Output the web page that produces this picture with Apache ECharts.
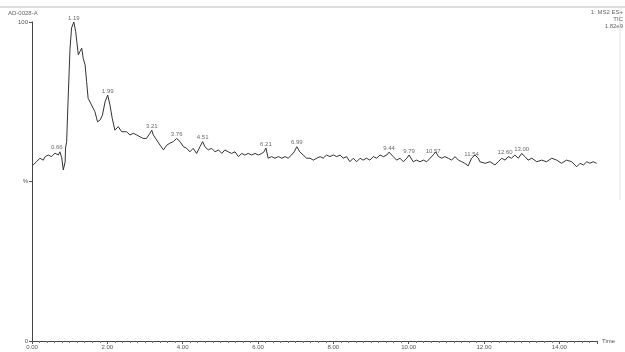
<!DOCTYPE html>
<html>
<head>
<meta charset="utf-8">
<script src="https://cdn.jsdelivr.net/npm/echarts@6/dist/echarts.min.js"></script>
<style>
  html, body { margin: 0; padding: 0; background: #fff; }
  #chart { width: 625px; height: 352px; }
</style>
</head>
<body>
<div id="chart"></div>
<script>
// retention time (min) and relative intensity (%)
const times = [
  0.03, 0.12, 0.21, 0.30, 0.35, 0.43, 0.52, 0.61, 0.70, 0.74, 0.79, 0.83, 0.88, 0.89, 0.92, 0.96,
  1.01, 1.05, 1.11, 1.16, 1.19, 1.23, 1.27, 1.32, 1.36, 1.41, 1.45, 1.49, 1.58, 1.67, 1.74, 1.81,
  1.87, 1.94, 2.01, 2.07, 2.13, 2.20, 2.29, 2.38, 2.42, 2.51, 2.60, 2.69, 2.78, 2.87, 2.95, 3.04,
  3.13, 3.18, 3.22, 3.31, 3.40, 3.49, 3.58, 3.66, 3.75, 3.84, 3.93, 4.02, 4.11, 4.19, 4.28, 4.37,
  4.46, 4.53, 4.59, 4.68, 4.77, 4.86, 4.95, 5.04, 5.12, 5.21, 5.30, 5.39, 5.48, 5.57, 5.65, 5.74,
  5.83, 5.92, 6.01, 6.10, 6.16, 6.21, 6.27, 6.36, 6.45, 6.54, 6.63, 6.72, 6.80, 6.89, 6.96, 7.03,
  7.11, 7.20, 7.29, 7.38, 7.47, 7.56, 7.65, 7.73, 7.82, 7.91, 8.00, 8.09, 8.18, 8.26, 8.35, 8.44,
  8.53, 8.62, 8.71, 8.79, 8.88, 8.97, 9.06, 9.15, 9.24, 9.33, 9.42, 9.48, 9.59, 9.68, 9.77, 9.86,
  9.95, 10.01, 10.12, 10.21, 10.30, 10.39, 10.48, 10.57, 10.65, 10.72, 10.79, 10.88, 10.96, 11.05,
  11.14, 11.23, 11.32, 11.41, 11.49, 11.58, 11.67, 11.76, 11.85, 11.89, 12.03, 12.16, 12.29, 12.38,
  12.47, 12.56, 12.64, 12.73, 12.82, 12.91, 13.00, 13.09, 13.17, 13.27, 13.40, 13.53, 13.66, 13.80,
  13.93, 14.06, 14.19, 14.33, 14.46, 14.55, 14.64, 14.73, 14.81, 14.90, 14.99
];
const intensity = [
  55.2, 56.2, 57.3, 56.7, 57.8, 58.3, 57.8, 58.9, 58.3, 59.3, 57.4, 53.6, 56.2, 60.5, 62.5, 76.2,
  91.8, 98.1, 100, 97.0, 93.8, 89.7, 90.7, 91.8, 88.6, 86.5, 81.3, 76.1, 74.0, 71.9, 68.7, 69.3,
  70.8, 75.0, 77.1, 74.0, 69.8, 66.1, 67.2, 65.6, 65.1, 65.6, 64.6, 65.1, 64.6, 64.0, 63.5, 63.5,
  65.1, 66.1, 64.6, 63.0, 61.4, 59.9, 61.4, 62.0, 62.5, 63.5, 62.5, 60.9, 60.4, 59.3, 60.4, 58.8,
  60.9, 62.5, 60.9, 59.9, 60.4, 59.3, 59.9, 58.8, 59.9, 59.3, 58.8, 59.3, 57.8, 58.8, 58.3, 58.8,
  58.3, 58.8, 58.3, 58.8, 59.3, 60.5, 57.3, 57.8, 57.3, 57.8, 57.3, 57.8, 57.3, 58.3, 59.3, 60.9,
  59.3, 58.3, 57.3, 57.3, 56.7, 57.3, 57.8, 57.3, 58.3, 57.8, 58.3, 57.8, 58.3, 57.3, 57.8, 56.2,
  57.3, 56.2, 57.3, 56.7, 57.3, 56.7, 57.8, 57.3, 58.3, 57.8, 58.3, 59.2, 57.8, 56.7, 57.3, 56.2,
  57.3, 58.3, 56.2, 56.7, 56.2, 56.7, 56.2, 57.3, 58.3, 59.3, 57.8, 57.3, 57.8, 57.3,
  56.7, 57.8, 56.7, 56.2, 55.7, 54.9, 57.3, 58.3, 57.3, 56.2, 55.7, 56.2, 55.2, 56.2,
  57.3, 56.7, 57.8, 57.3, 58.3, 57.3, 58.8, 57.8, 56.7, 57.3, 56.2, 56.7, 56.2, 57.3,
  56.7, 55.7, 56.7, 56.2, 54.6, 55.7, 55.2, 56.2, 55.7, 56.2, 55.7
];

// labelled peaks: apex time, apex intensity, printed label
const peakTimes = [0.66, 1.11, 2.01, 3.18, 3.84, 4.53, 6.21, 7.03, 9.48, 10.01, 10.65, 11.67, 12.56, 13.00];
const peakValues = [59.5, 100, 77.1, 66.1, 63.5, 62.5, 60.5, 60.9, 59.2, 58.3, 58.3, 57.3, 57.8, 58.8];
const peakLabels = ["0.66", "1.19", "1.99", "3.21", "3.76", "4.51", "6.21", "6.99", "9.44", "9.79", "10.57", "11.54", "12.60", "13.00"];

const yTickLabels = { 0: "0", 50: "%", 100: "100" };

const chart = echarts.init(document.getElementById("chart"));

const option = {
  animation: false,
  backgroundColor: "#fff",
  grid: {
    left: 32,
    right: 28,
    top: 22,
    bottom: 11,
    containLabel: false,
    outerBoundsMode: "none",
  },
  xAxis: {
    type: "value",
    min: 0,
    max: 15,
    interval: 2,
    name: "Time",
    nameLocation: "end",
    nameGap: 5,
    nameTextStyle: { fontSize: 6, color: "#555", fontFamily: "Liberation Sans" },
    axisLine: { lineStyle: { color: "#444", width: 1 } },
    axisTick: { show: true, length: 3, lineStyle: { color: "#555" } },
    minorTick: { show: true, splitNumber: 10, length: 2, lineStyle: { color: "#777" } },
    splitLine: { show: false },
    axisLabel: {
      fontSize: 6,
      color: "#555",
      margin: 3,
      fontFamily: "Liberation Sans",
      showMaxLabel: false,
      formatter: (v) => (v % 2 === 0 ? v.toFixed(2) : ""),
    },
  },
  yAxis: {
    type: "value",
    min: 0,
    max: 100,
    interval: 50,
    axisLine: { show: true, lineStyle: { color: "#444", width: 1 } },
    axisTick: { show: true, length: 3, lineStyle: { color: "#555" } },
    splitLine: { show: false },
    axisLabel: {
      fontSize: 6,
      color: "#555",
      margin: 4,
      fontFamily: "Liberation Sans",
      formatter: (v) => yTickLabels[v] ?? "",
    },
  },
  graphic: [
    { type: "line", shape: { x1: 0, y1: 7, x2: 625, y2: 7 }, style: { stroke: "#bbb", lineWidth: 1 } },
    { type: "line", shape: { x1: 620, y1: 8, x2: 620, y2: 200 }, style: { stroke: "#e4e4e4", lineWidth: 1 } },
    { type: "text", left: 8, top: 10, style: { text: "AD-0028-A", fontSize: 6, fill: "#666", fontFamily: "Liberation Sans" } },
    { type: "text", right: 2, top: 9, style: { text: "1: MS2 ES+", fontSize: 6, fill: "#666", fontFamily: "Liberation Sans" } },
    { type: "text", right: 2, top: 16, style: { text: "TIC", fontSize: 6, fill: "#666", fontFamily: "Liberation Sans" } },
    { type: "text", right: 2, top: 23, style: { text: "1.82e9", fontSize: 6, fill: "#666", fontFamily: "Liberation Sans" } },
  ],
  series: [
    {
      name: "TIC",
      type: "line",
      data: times.map((t, i) => [t, intensity[i]]),
      showSymbol: false,
      lineStyle: { color: "#333", width: 1 },
      z: 2,
    },
    {
      name: "peaks",
      type: "scatter",
      data: peakTimes.map((t, i) => [t, peakValues[i]]),
      symbolSize: 0,
      label: {
        show: true,
        position: "top",
        distance: 1,
        fontSize: 6,
        color: "#444",
        fontFamily: "Liberation Sans",
        formatter: (p) => peakLabels[p.dataIndex],
      },
      z: 3,
    },
  ],
};

chart.setOption(option);
</script>
</body>
</html>
